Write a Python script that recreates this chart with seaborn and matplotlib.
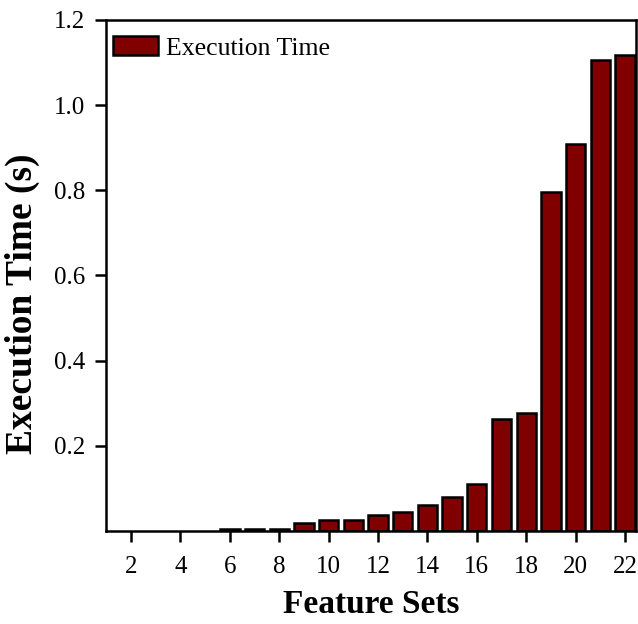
import matplotlib
matplotlib.use("Agg")
import matplotlib.pyplot as plt
import seaborn as sns
import pandas as pd
import numpy as np

feature_sets = list(range(1, 23))
exec_time = [np.nan, np.nan, np.nan, np.nan, np.nan, 0.005, 0.005, 0.005, 0.02, 0.025, 0.026,
             0.037, 0.045, 0.061, 0.08, 0.11, 0.263, 0.278, 0.795, 0.908, 1.106, 1.118]
y_ticks = [0.2, 0.4, 0.6, 0.8, 1.0, 1.2]
x_ticks = [2, 4, 6, 8, 10, 12, 14, 16, 18, 20, 22]

sns.set_style("white")
plt.rcParams['font.family'] = ['Liberation Serif', 'DejaVu Serif']
plt.rcParams['text.color'] = 'black'
plt.rcParams['axes.labelcolor'] = 'black'

df = pd.DataFrame({"Feature Sets": feature_sets, "Execution Time": exec_time})

fig = plt.figure(figsize=(6.38, 6.24), dpi=100)
ax = fig.add_axes([0.166, 0.149, 0.831, 0.819])
sns.barplot(data=df, x="Feature Sets", y="Execution Time", native_scale=True,
            color="#800000", saturation=1, edgecolor="black", linewidth=1.8,
            width=0.78, ax=ax, label="Execution Time")

ax.set_xlim(0.98, 22.45)
ax.set_ylim(0, 1.2)
ax.set_yticks(y_ticks)
ax.set_yticklabels([f"{v:.1f}" for v in y_ticks])
ax.set_xticks(x_ticks)
ax.set_xticklabels([str(v) for v in x_ticks])
ax.tick_params(axis="both", which="major", direction="out", length=8, width=1.8,
               labelsize=18, left=True, bottom=True, colors="black", pad=7)
ax.tick_params(axis="x", pad=10)
for s in ax.spines.values():
    s.set_color("black")
    s.set_linewidth(1.8)

ax.set_xlabel("Feature Sets", fontsize=24, fontweight="bold", labelpad=8)
ax.set_ylabel("Execution Time (s)", fontsize=27, fontweight="bold")
ax.yaxis.set_label_coords(-0.125, 0.445)

leg = ax.legend(loc="upper left", bbox_to_anchor=(0.004, 0.978), frameon=False,
                fontsize=18.5, handlelength=1.75, handleheight=0.75,
                handletextpad=0.3, borderaxespad=0.0, borderpad=0.2)

fig.savefig("out.png", dpi=100)
